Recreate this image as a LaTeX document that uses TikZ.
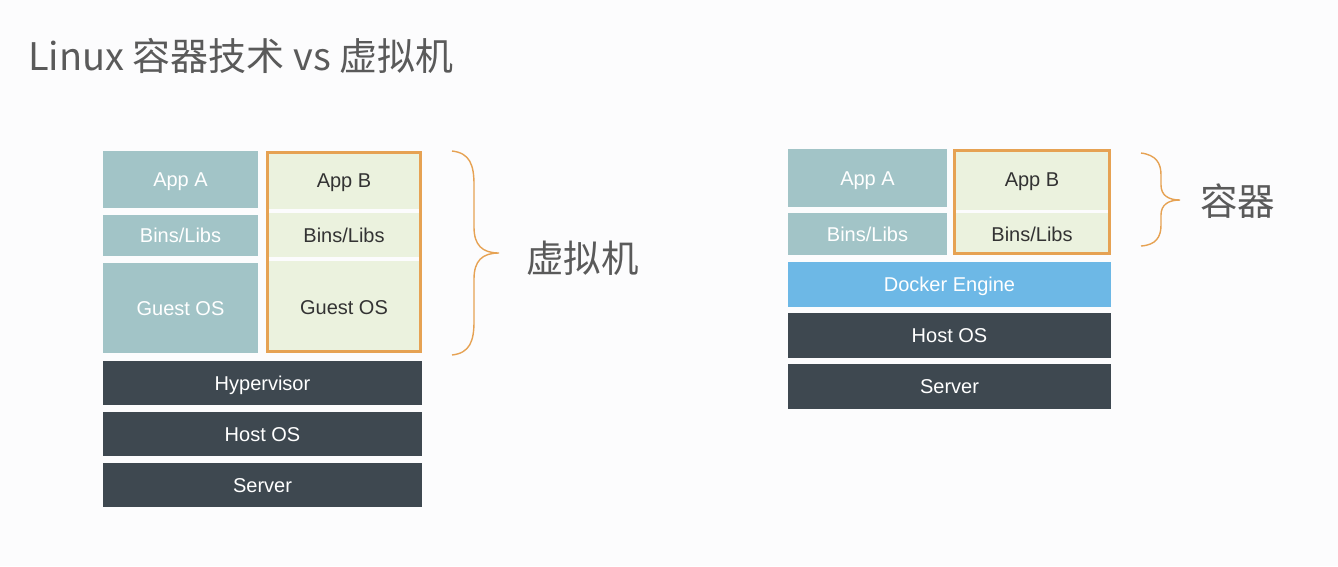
\documentclass[tikz,border=0pt]{standalone}
\usepackage{fontspec}
\setmainfont{Liberation Sans}
\newfontfamily\cjk{Noto Sans CJK SC}
\definecolor{teal1}{HTML}{A2C4C7}
\definecolor{green1}{HTML}{EBF2DE}
\definecolor{orange1}{HTML}{E6A253}
\definecolor{dark1}{HTML}{3E4850}
\definecolor{blue1}{HTML}{6DB8E6}
\definecolor{bg1}{HTML}{FCFCFD}
\definecolor{gray1}{HTML}{5A5A5A}
\tikzset{
  base/.style={inner sep=0pt, outer sep=0pt, text height=14.4pt, text depth=0pt, font=\fontsize{20}{22}\selectfont},
  tealbox/.style={base, fill=teal1, text=white},
  greenbox/.style={base, fill=green1, text=black!80},
  darkbox/.style={base, fill=dark1, text=white},
  bluebox/.style={base, fill=blue1, text=white},
  framebox/.style={draw=orange1, line width=3pt, inner sep=0pt, fill=none},
  bracepath/.style={draw=orange1, line width=1.4pt},
  cjklabel/.style={inner sep=0pt, text=gray1, font=\cjk\fontsize{37.5}{40}\selectfont}
}
\begin{document}
\begin{tikzpicture}[x=1pt,y=-1pt]
\useasboundingbox (0,0) rectangle (1338,566);
\fill[bg1] (0,0) rectangle (1338,566);
% title
\node[anchor=base west, inner sep=0pt, text=gray1, font=\cjk\fontsize{38}{42}\selectfont] (title) at (28,70) {Linux 容器技术 vs 虚拟机};
% left stack
\node[tealbox, minimum width=155, minimum height=57] (appA1) at (180.5,179.5) {App A};
\node[tealbox, minimum width=155, minimum height=41] (bins1) at (180.5,235.5) {Bins/Libs};
\node[tealbox, minimum width=155, minimum height=90] (guest1) at (180.5,308) {Guest OS};
\node[greenbox, minimum width=156, minimum height=58] (appB1) at (344,180) {App B};
\node[greenbox, minimum width=156, minimum height=44] (binsB1) at (344,235) {Bins/Libs};
\node[greenbox, minimum width=156, minimum height=92] (guestB1) at (344,307) {Guest OS};
\node[framebox, minimum width=153, minimum height=199] (vmbox) at (344,252) {};
\node[darkbox, minimum width=319, minimum height=44] (hyper) at (262.5,383) {Hypervisor};
\node[darkbox, minimum width=319, minimum height=44] (host1) at (262.5,434) {Host OS};
\node[darkbox, minimum width=319, minimum height=44] (server1) at (262.5,485) {Server};
% left brace
\draw[bracepath] (452,151) .. controls (470,153) and (474,165) .. (474,185) -- (474,227)
  .. controls (474,245) and (482,253) .. (499,253)
  .. controls (482,253) and (474,261) .. (474,279) -- (474,321)
  .. controls (474,341) and (470,353) .. (452,355);
\node[cjklabel, anchor=west] (vmlabel) at (526,258) {虚拟机};
% right stack
\node[tealbox, minimum width=159, minimum height=58] (appA2) at (867.5,178) {App A};
\node[tealbox, minimum width=159, minimum height=42] (bins2) at (867.5,234) {Bins/Libs};
\node[greenbox, minimum width=158, minimum height=61] (appB2) at (1032,179.5) {App B};
\node[greenbox, minimum width=158, minimum height=42] (binsB2) at (1032,234) {Bins/Libs};
\node[framebox, minimum width=155, minimum height=103] (ctbox) at (1032,202) {};
\node[bluebox, minimum width=323, minimum height=45] (docker) at (949.5,284.5) {Docker Engine};
\node[darkbox, minimum width=323, minimum height=45] (host2) at (949.5,335.5) {Host OS};
\node[darkbox, minimum width=323, minimum height=45] (server2) at (949.5,386.5) {Server};
% right brace
\draw[bracepath] (1141,153) .. controls (1156,155) and (1161,163) .. (1161,175) -- (1161,185)
  .. controls (1161,195) and (1168,200) .. (1180,200)
  .. controls (1168,200) and (1161,205) .. (1161,215) -- (1161,225)
  .. controls (1161,237) and (1156,245) .. (1141,246);
\node[cjklabel, anchor=west] (ctlabel) at (1200,201) {容器};
\end{tikzpicture}
\end{document}
